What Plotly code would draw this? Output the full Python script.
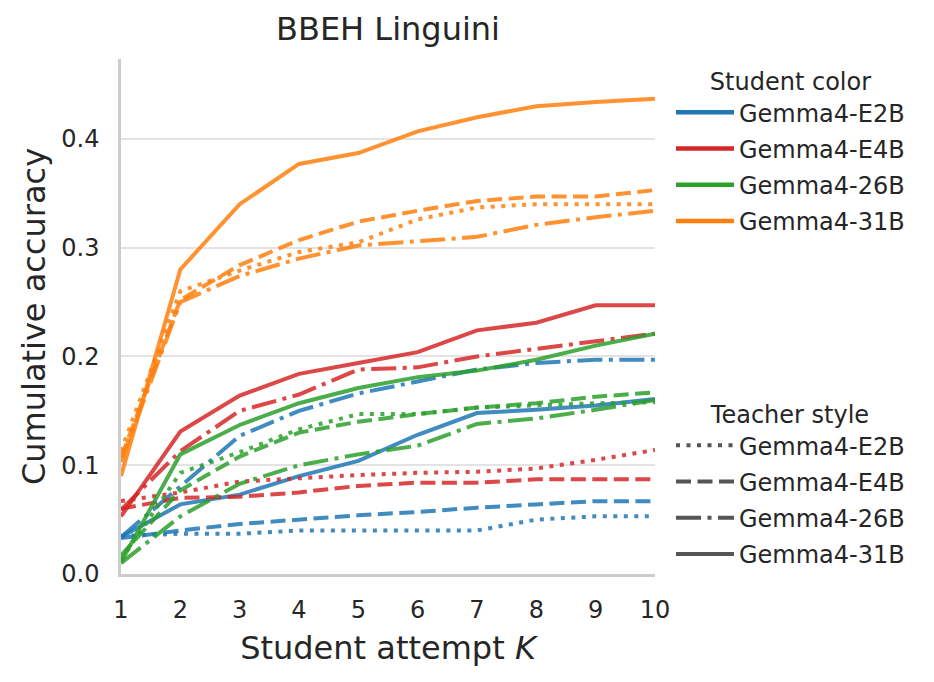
import plotly.graph_objects as go

# data
k_vals = [1, 2, 3, 4, 5, 6, 7, 8, 9, 10]

students = ["Gemma4-E2B", "Gemma4-E4B", "Gemma4-26B", "Gemma4-31B"]
teachers = ["Gemma4-E2B", "Gemma4-E4B", "Gemma4-26B", "Gemma4-31B"]

student_colors = ["#1f77b4", "#d62728", "#2ca02c", "#ff7f0e"]
teacher_dash = ["4px,6.5px", "15px,6.5px", "25px,6.5px,4px,6.5px", "solid"]

# accuracy[student][teacher] -> values for K = 1..10
e2b_by_e2b = [0.035, 0.037, 0.037, 0.040, 0.040, 0.040, 0.040, 0.050, 0.053, 0.053]
e2b_by_e4b = [0.033, 0.040, 0.046, 0.050, 0.054, 0.057, 0.061, 0.064, 0.067, 0.067]
e2b_by_26b = [0.034, 0.080, 0.127, 0.150, 0.166, 0.177, 0.188, 0.194, 0.197, 0.197]
e2b_by_31b = [0.034, 0.064, 0.073, 0.090, 0.104, 0.128, 0.148, 0.151, 0.155, 0.161]

e4b_by_e2b = [0.067, 0.075, 0.085, 0.088, 0.091, 0.093, 0.094, 0.097, 0.105, 0.114]
e4b_by_e4b = [0.060, 0.070, 0.071, 0.075, 0.081, 0.084, 0.084, 0.087, 0.087, 0.087]
e4b_by_26b = [0.059, 0.113, 0.150, 0.165, 0.188, 0.190, 0.200, 0.207, 0.214, 0.221]
e4b_by_31b = [0.053, 0.131, 0.164, 0.184, 0.194, 0.204, 0.224, 0.231, 0.247, 0.247]

b26_by_e2b = [0.013, 0.093, 0.112, 0.133, 0.147, 0.147, 0.153, 0.155, 0.157, 0.158]
b26_by_e4b = [0.017, 0.077, 0.108, 0.130, 0.140, 0.147, 0.153, 0.157, 0.163, 0.167]
b26_by_26b = [0.010, 0.053, 0.083, 0.100, 0.110, 0.118, 0.138, 0.143, 0.151, 0.160]
b26_by_31b = [0.011, 0.110, 0.137, 0.157, 0.171, 0.181, 0.187, 0.197, 0.210, 0.221]

b31_by_e2b = [0.113, 0.260, 0.279, 0.296, 0.305, 0.326, 0.337, 0.340, 0.340, 0.340]
b31_by_e4b = [0.107, 0.252, 0.284, 0.307, 0.324, 0.334, 0.343, 0.347, 0.347, 0.353]
b31_by_26b = [0.103, 0.250, 0.274, 0.290, 0.302, 0.306, 0.310, 0.321, 0.328, 0.334]
b31_by_31b = [0.090, 0.280, 0.340, 0.377, 0.387, 0.407, 0.420, 0.430, 0.434, 0.437]

accuracy = [
    [e2b_by_e2b, e2b_by_e4b, e2b_by_26b, e2b_by_31b],
    [e4b_by_e2b, e4b_by_e4b, e4b_by_26b, e4b_by_31b],
    [b26_by_e2b, b26_by_e4b, b26_by_26b, b26_by_31b],
    [b31_by_e2b, b31_by_e4b, b31_by_26b, b31_by_31b],
]

FONT = "DejaVu Sans"
TXT = "#262626"
W, H = 934, 682
SMALL, BIG = 24, 32

fig = go.Figure()

for si, stud in enumerate(students):
    for ti, teach in enumerate(teachers):
        fig.add_trace(go.Scatter(
            x=k_vals, y=accuracy[si][ti], mode="lines",
            line=dict(color=student_colors[si], width=4, dash=teacher_dash[ti]),
            opacity=0.85, showlegend=False,
            hovertemplate=stud + " / " + teach + "<br>K=%{x}: %{y:.3f}<extra></extra>",
        ))

# legend entries (colour = student, style = teacher)
for si, stud in enumerate(students):
    fig.add_trace(go.Scatter(
        x=[None], y=[None], mode="lines", name=stud, legend="legend",
        legendgroup="s" + str(si),
        line=dict(color=student_colors[si], width=4.5),
    ))
for ti, teach in enumerate(teachers):
    fig.add_trace(go.Scatter(
        x=[None], y=[None], mode="lines", name=teach, legend="legend2",
        legendgroup="t" + str(ti),
        line=dict(color="#555555", width=4, dash=teacher_dash[ti]),
    ))

leg_common = dict(
    xref="container", yref="container", xanchor="left", yanchor="top",
    font=dict(family=FONT, size=SMALL, color=TXT), bgcolor="rgba(0,0,0,0)",
    borderwidth=0, itemwidth=58, traceorder="grouped", tracegroupgap=2,
)

fig.update_layout(
    width=W, height=H,
    paper_bgcolor="white", plot_bgcolor="white",
    margin=dict(l=121, r=W - 655, t=59, b=H - 574),
    font=dict(family=FONT, color=TXT),
    title=dict(text="BBEH Linguini", x=388 / W, xanchor="center",
               y=1 - 29 / H, yanchor="middle",
               font=dict(family=FONT, size=BIG, color=TXT)),
    legend=dict(x=671 / W, y=1 - 59 / H,
                title=dict(text="Student color", side="top center",
                           font=dict(family=FONT, size=SMALL, color=TXT)),
                **leg_common),
    legend2=dict(x=671 / W, y=1 - 392 / H,
                 title=dict(text="Teacher style", side="top center",
                            font=dict(family=FONT, size=SMALL, color=TXT)),
                 **leg_common),
)

fig.update_xaxes(
    range=[1, 10], tickmode="array", tickvals=k_vals,
    showgrid=False, zeroline=False, automargin=False,
    showline=True, linecolor="#cccccc", linewidth=2.5,
    ticks="", ticklabelstandoff=12,
    tickfont=dict(family=FONT, size=SMALL, color=TXT),
    title=dict(text="Student attempt <i>K</i>", standoff=15,
               font=dict(family=FONT, size=BIG, color=TXT)),
)
fig.update_yaxes(
    range=[0, 0.4735], dtick=0.1, tickformat=".1f",
    showgrid=True, gridcolor="#e3e3e3", gridwidth=1.5, zeroline=False,
    automargin=False,
    showline=True, linecolor="#cccccc", linewidth=2.5,
    ticks="", ticklabelstandoff=14,
    tickfont=dict(family=FONT, size=SMALL, color=TXT),
    title=dict(text="Cumulative accuracy", standoff=7,
               font=dict(family=FONT, size=BIG, color=TXT)),
)

# the page body has an 8px default margin; drop it so the figure sits at 0,0
fig.write_html("out.html", config={"displayModeBar": False},
               post_script="document.body.style.margin = '0';")
